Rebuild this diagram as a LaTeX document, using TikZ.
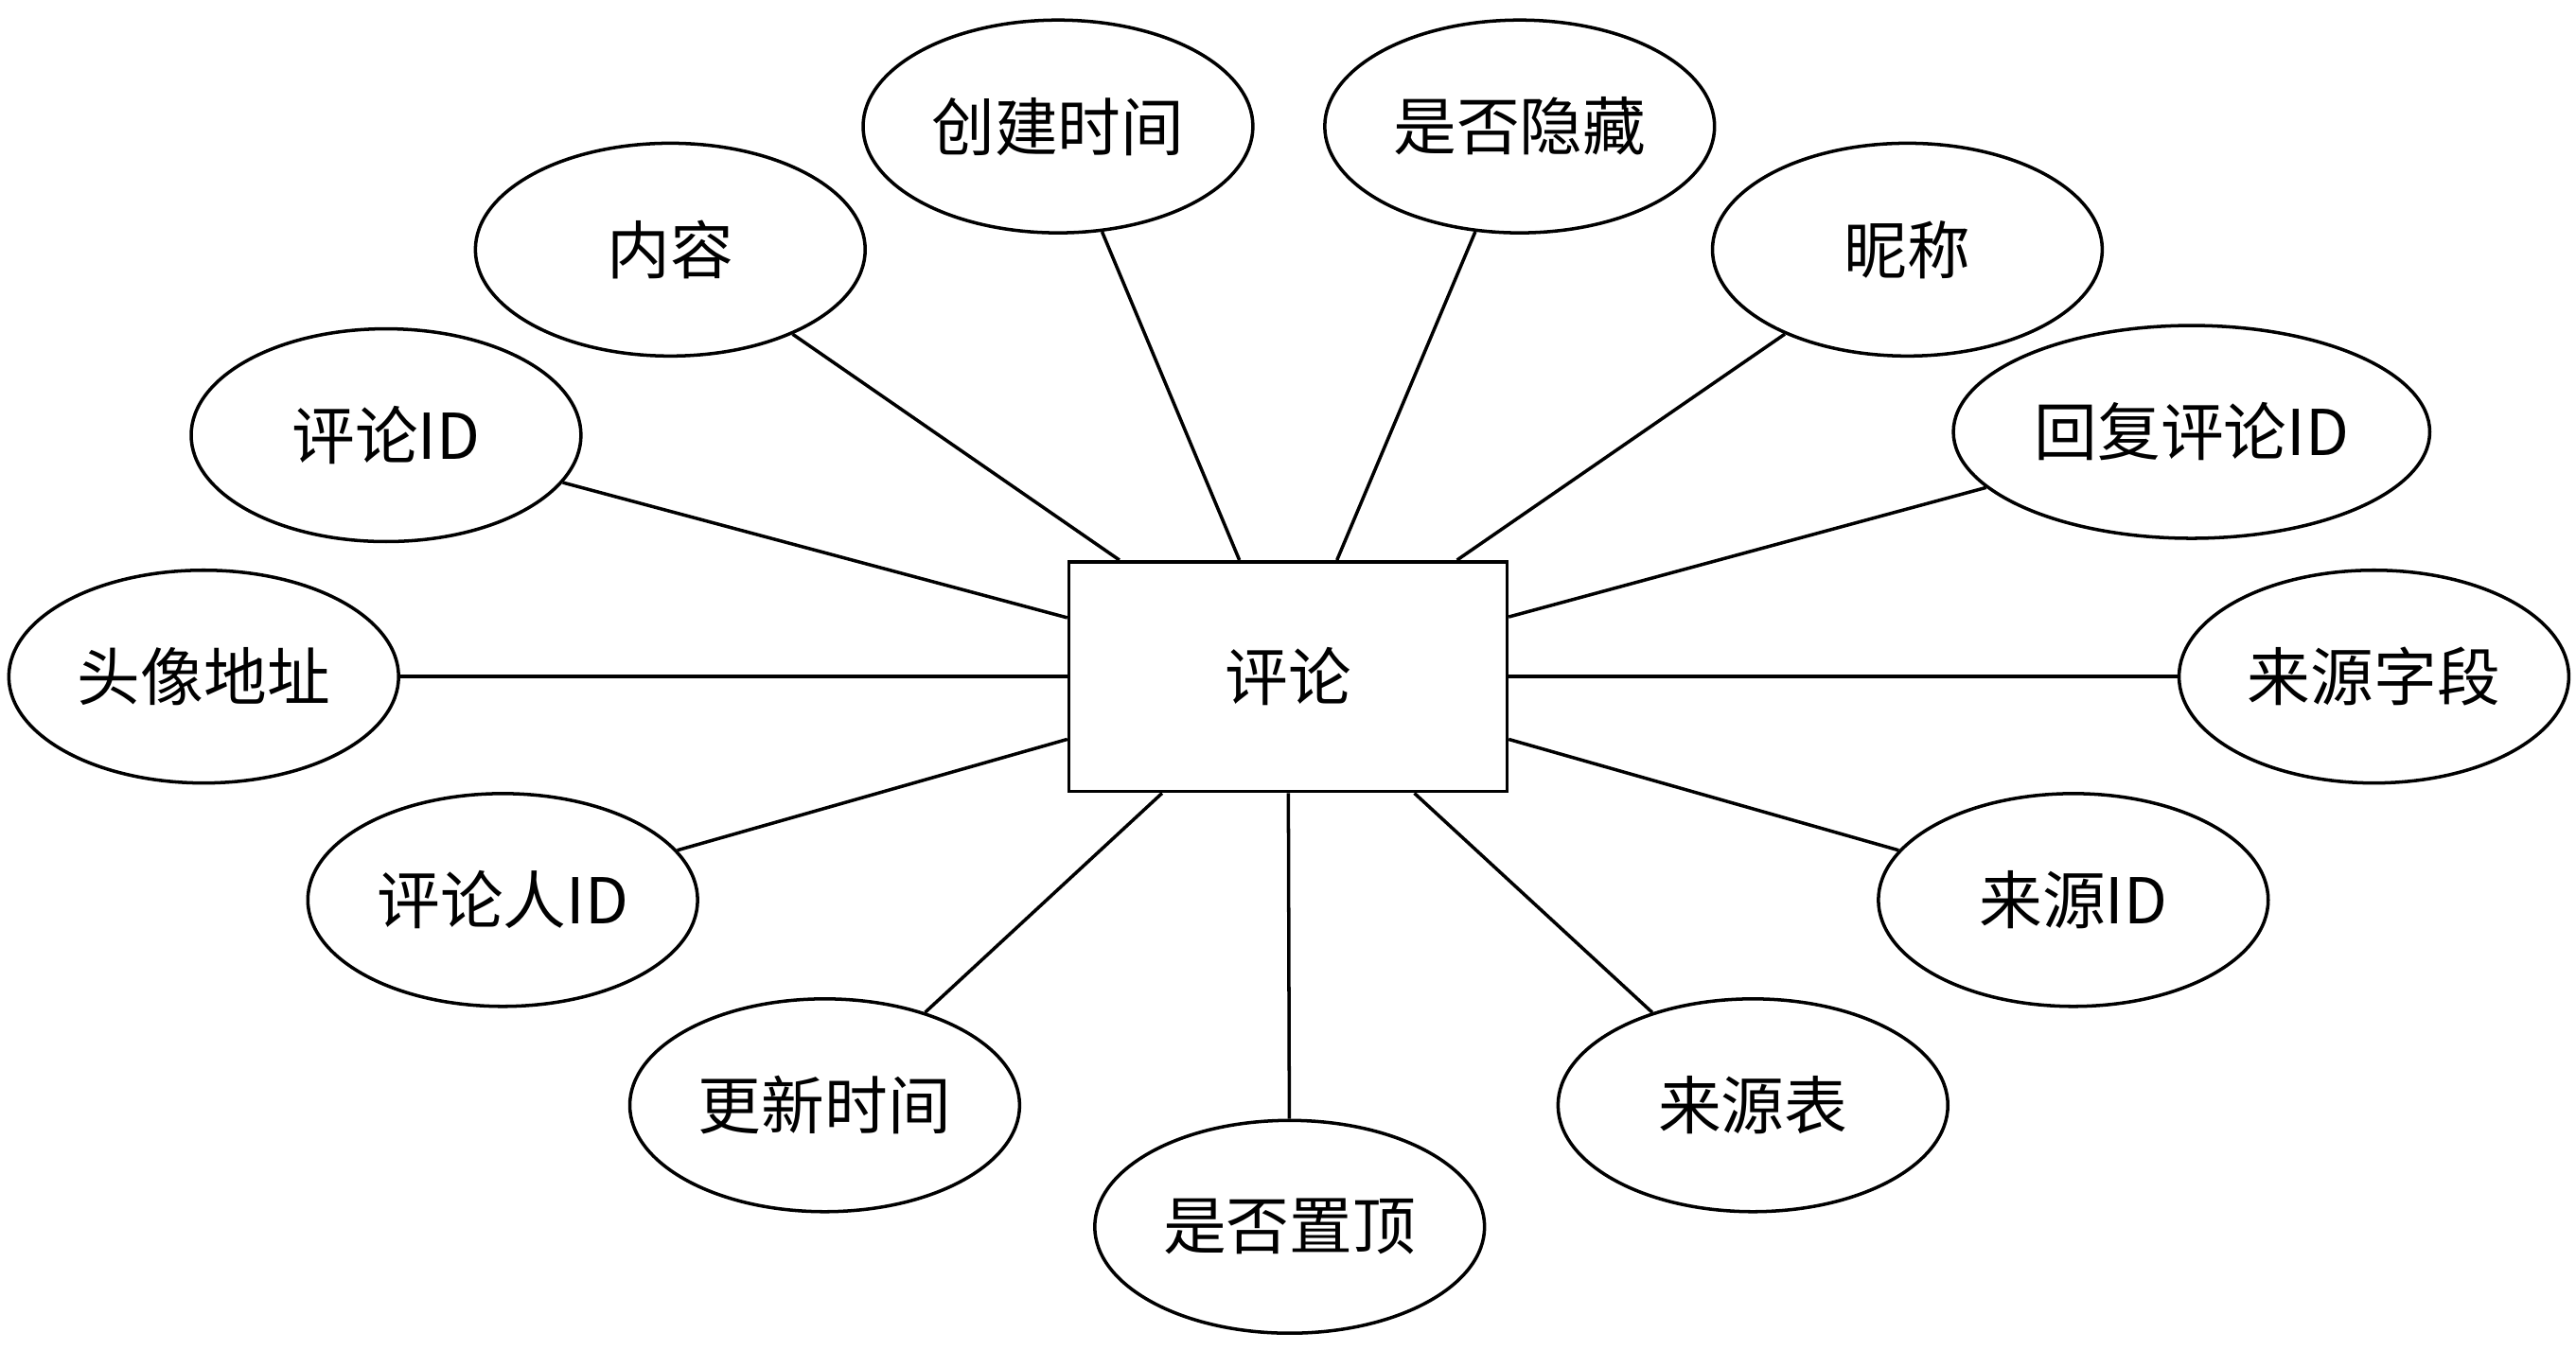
\documentclass[tikz,border=0pt]{standalone}
\usepackage{fontspec}
\setmainfont{Noto Sans CJK SC}
\usetikzlibrary{shapes.geometric}
\tikzset{
  attr/.style={draw, line width=1pt, ellipse, minimum width=4.12cm, minimum height=2.25cm, font=\fontsize{19}{22}\selectfont},
  entity/.style={draw, line width=1pt, minimum width=4.63cm, minimum height=2.43cm, font=\fontsize{19}{22}\selectfont},
  link/.style={line width=1pt}
}
\begin{document}
\begin{tikzpicture}[x=0.01736cm, y=-0.01736cm]
    \useasboundingbox (0,0) rectangle (1568,822);
    % entity
    \node[entity] (comment) at (784,412) {评论};
    % attributes
    \node[attr] (ctime) at (644,77) {创建时间};
    \node[attr] (hidden) at (925,77) {是否隐藏};
    \node[attr] (content) at (408,152) {内容};
    \node[attr] (nick) at (1161,152) {昵称};
    \node[attr] (cid) at (235,265) {评论ID};
    \node[attr] (replyid) at (1334,263) {回复评论ID};
    \node[attr] (avatar) at (124,412) {头像地址};
    \node[attr] (srcfield) at (1445,412) {来源字段};
    \node[attr] (userid) at (306,548) {评论人ID};
    \node[attr] (srcid) at (1262,548) {来源ID};
    \node[attr] (utime) at (502,673) {更新时间};
    \node[attr] (srctable) at (1067,673) {来源表};
    \node[attr] (top) at (785,747) {是否置顶};
    % links
    \foreach \a in {ctime, hidden, content, nick, cid, replyid, avatar, srcfield, userid, srcid, utime, srctable, top}
        \draw[link] (\a) -- (comment);
\end{tikzpicture}
\end{document}
